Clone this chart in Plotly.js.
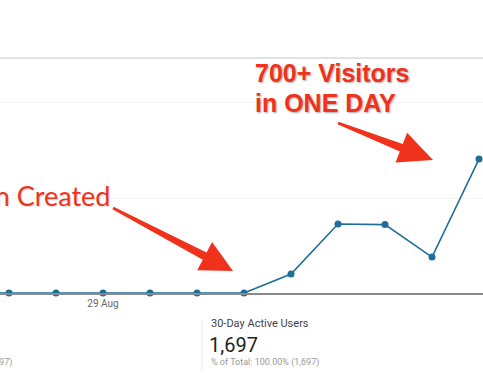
<!DOCTYPE html>
<html>
<head>
<meta charset="utf-8">
<script src="https://cdn.plot.ly/plotly-3.0.1.min.js"></script>
<style>html,body{margin:0;padding:0;background:#fff;overflow:hidden}#chart{width:483px;height:374px}</style>
</head>
<body>
<div id="chart"></div>
<script>
// Data
var dates = ['26 Aug','27 Aug','28 Aug','29 Aug','30 Aug','31 Aug','1 Sep','2 Sep','3 Sep','4 Sep','5 Sep','6 Sep'];
var users = [0, 0, 0, 0, 0, 0, 0, 100, 363, 360, 189, 705];
var tickDates = ['29 Aug'];
var tickLabels = ['29 Aug'];

var W = 483, H = 374, ML = 0, MR = 0, MT = 58, MB = 81;
var PW = W - ML - MR, PH = H - MT - MB;
function px(x){ return (x - ML) / PW; }
function py(y){ return (H - MB - y) / PH; }
function pathFrom(pts){
  return 'M' + pts.map(function(p){ return px(p[0]).toFixed(4) + ',' + py(p[1]).toFixed(4); }).join(' L') + ' Z';
}
function arrow(t, tip, headLen, headHalf, tailHalf, neckHalf){
  var dx = tip[0]-t[0], dy = tip[1]-t[1], L = Math.sqrt(dx*dx+dy*dy);
  var ux = dx/L, uy = dy/L, nx = -uy, ny = ux;
  var bx = t[0] + ux*(L-headLen), by = t[1] + uy*(L-headLen);
  return [
    [t[0]+nx*tailHalf, t[1]+ny*tailHalf],
    [bx+nx*neckHalf, by+ny*neckHalf],
    [bx+nx*headHalf, by+ny*headHalf],
    tip,
    [bx-nx*headHalf, by-ny*headHalf],
    [bx-nx*neckHalf, by-ny*neckHalf],
    [t[0]-nx*tailHalf, t[1]-ny*tailHalf]
  ];
}
var RED = '#f0321c';
var shapes = [
  {type:'line', xref:'paper', yref:'paper', x0:0, x1:1, y0:py(58), y1:py(58), line:{color:'#d9d9d9', width:1.5}},
  {type:'line', xref:'paper', yref:'paper', x0:px(202), x1:px(202), y0:py(320), y1:py(370), line:{color:'#e6e6e6', width:1}},
  {type:'path', xref:'paper', yref:'paper', path: pathFrom(arrow([113,208],[233,271],32,16,1.3,4)), fillcolor:RED, line:{width:0}},
  {type:'path', xref:'paper', yref:'paper', path: pathFrom(arrow([338,123],[433,160],34,16,1.3,4)), fillcolor:RED, line:{width:0}}
];
var shadow = '1px 1px 2px rgba(0,0,0,0.35)';
var annotations = [
  {xref:'paper', yref:'paper', x:px(253), y:py(73), xanchor:'left', yanchor:'middle', showarrow:false,
   text:'<b>700+ Visitors</b>', font:{family:'Liberation Sans, Arial', size:25, color:RED, shadow:shadow}},
  {xref:'paper', yref:'paper', x:px(253), y:py(103), xanchor:'left', yanchor:'middle', showarrow:false,
   text:'<b>in ONE DAY</b>', font:{family:'Liberation Sans, Arial', size:25, color:RED, shadow:shadow}},
  {xref:'paper', yref:'paper', x:px(112), y:py(195), xanchor:'right', yanchor:'middle', showarrow:false,
   text:'Campaign Created', font:{family:'Lato', size:27, color:RED, shadow:'1px 1px 1px rgba(0,0,0,0.15)'}},
  {xref:'paper', yref:'paper', x:px(209), y:py(323), xanchor:'left', yanchor:'middle', showarrow:false,
   text:'30-Day Active Users', font:{family:'Roboto', size:11, color:'#444'}},
  {xref:'paper', yref:'paper', x:px(207), y:py(345), xanchor:'left', yanchor:'middle', showarrow:false,
   text:'1,697', font:{family:'Roboto', size:20, color:'#222'}},
  {xref:'paper', yref:'paper', x:px(209), y:py(362), xanchor:'left', yanchor:'middle', showarrow:false,
   text:'% of Total: 100.00% (1,697)', font:{family:'Roboto', size:9, color:'#999'}},
  {xref:'paper', yref:'paper', x:px(14), y:py(362), xanchor:'right', yanchor:'middle', showarrow:false,
   text:'% of Total: 100.00% (1,697)', font:{family:'Roboto', size:9, color:'#999'}}
];

var trace = {
  type:'scatter', mode:'lines+markers', x:dates, y:users,
  line:{color:'#1f6e98', width:1.6}, marker:{color:'#1f6e98', size:7},
  cliponaxis:false, hoverinfo:'none'
};
var layout = {
  width:W, height:H, margin:{l:ML, r:MR, t:MT, b:MB, pad:0},
  paper_bgcolor:'#fff', plot_bgcolor:'#fff', showlegend:false,
  xaxis:{type:'category', range:[0.8085, 11.085], showgrid:false, zeroline:false,
         showline:true, linecolor:'#8a8a8a', linewidth:1.5,
         tickmode:'array', tickvals:tickDates, ticktext:tickLabels, ticks:'',
         tickfont:{family:'Roboto', size:10, color:'#666'}, fixedrange:true},
  yaxis:{range:[0, 1236.8], tickvals:[500,1000], showticklabels:false, showgrid:true,
         gridcolor:'#f6f6f6', gridwidth:1, zeroline:false, fixedrange:true},
  shapes:shapes, annotations:annotations
};
Plotly.newPlot('chart', [trace], layout, {staticPlot:true, displayModeBar:false});
</script>
</body>
</html>
